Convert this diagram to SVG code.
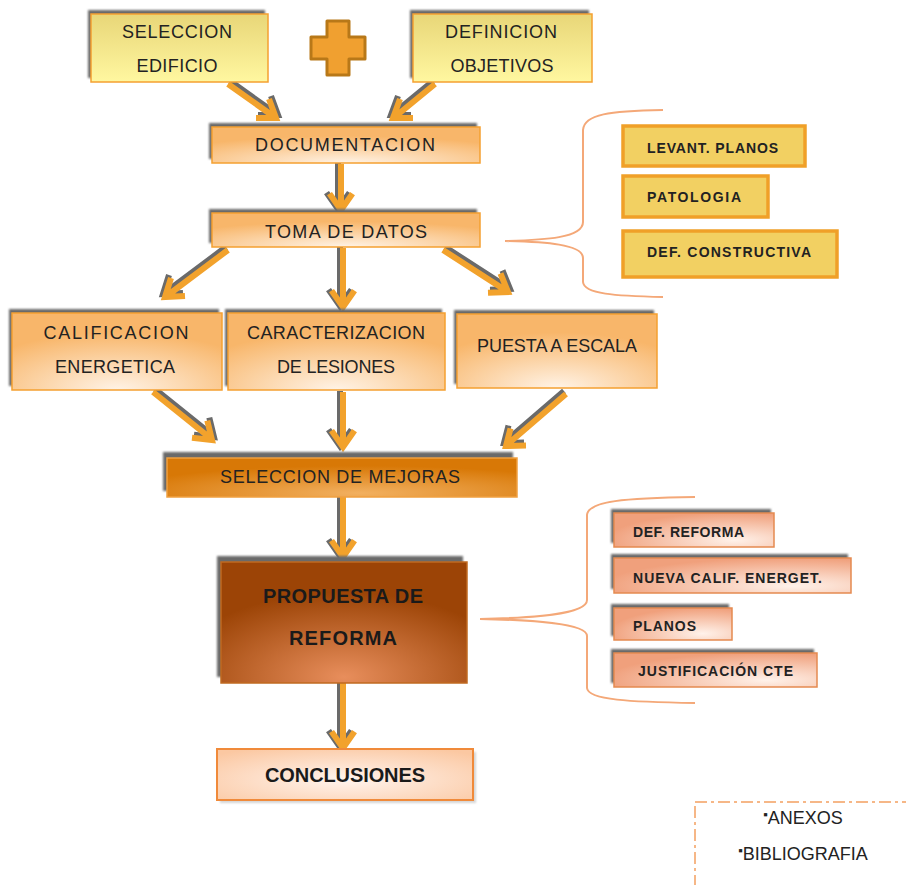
<svg xmlns="http://www.w3.org/2000/svg" xmlns:xlink="http://www.w3.org/1999/xlink" width="906" height="885" viewBox="0 0 906 885">
<style>
.t{font-family:"Liberation Sans",Arial,sans-serif;font-size:18px;fill:#222;text-anchor:middle}
.tb{font-family:"Liberation Sans",Arial,sans-serif;font-size:20px;font-weight:bold;fill:#1a1a1a;text-anchor:middle}
.ts{font-family:"Liberation Sans",Arial,sans-serif;font-size:14px;font-weight:bold;fill:#222}
.sh{fill:#6a6a6a}
.bx{stroke:#f5a030;stroke-width:1.5}
.gold{fill:#f2d062;stroke:#f0a028;stroke-width:3.5}
.brace{fill:none;stroke:#f4a878;stroke-width:2}
.ar{fill:none;stroke:#f2a22c;stroke-width:6;stroke-linejoin:miter}
.ars{fill:none;stroke:#6a6a6a;stroke-width:6;stroke-linejoin:miter}
</style>
<defs>
<linearGradient id="gy" x1="0" y1="0" x2="0" y2="1"><stop offset="0" stop-color="#e8d678"/><stop offset="1" stop-color="#fff7a0"/></linearGradient>
<radialGradient id="gp" cx="0.5" cy="1" r="0.75"><stop offset="0" stop-color="#fff3e6"/><stop offset="1" stop-color="#f8b66a"/></radialGradient>
<radialGradient id="gm" cx="0.55" cy="0.9" r="0.7"><stop offset="0" stop-color="#f2b060"/><stop offset="1" stop-color="#d87806"/></radialGradient>
<radialGradient id="gr" cx="0.5" cy="0.95" r="0.7"><stop offset="0" stop-color="#e88e5c"/><stop offset="1" stop-color="#9c4406"/></radialGradient>
<radialGradient id="gc" cx="0.5" cy="0.6" r="0.7"><stop offset="0" stop-color="#fff4ee"/><stop offset="1" stop-color="#fbc8a2"/></radialGradient>
<radialGradient id="gs" cx="0.75" cy="0.8" r="0.8"><stop offset="0" stop-color="#fff2ea"/><stop offset="1" stop-color="#f0a07c"/></radialGradient>
<filter id="bl" x="-5%" y="-20%" width="110%" height="140%"><feGaussianBlur stdDeviation="0.8"/></filter>
<path id="a1" d="M228,84 L273,116 M256,118 L276,118 L269,99"/>
<path id="a2" d="M435,84 L396,116 M413,118 L393,118 L400,99"/>
<path id="a3" d="M341,164 L341,206 M329.5,193.6 L341,210 L352.5,193.6"/>
<path id="a4" d="M228,250 L168,295 M185,296 L165,297 L171,278"/>
<path id="a5" d="M343,248 L343,303 M331.5,290.6 L343,307 L354.5,290.6"/>
<path id="a6" d="M443,250 L505,290 M488,292.7 L508,292 L500.5,273.5"/>
<path id="a7" d="M153,392 L209,437 M192,437.8 L212,440 L207.3,420.6"/>
<path id="a8" d="M343,392 L343,443 M331.5,430.6 L343,447 L354.5,430.6"/>
<path id="a9" d="M566,394 L509,443 M526,445.6 L506,446 L510.5,428.5"/>
<path id="a10" d="M343,497 L343,553 M331.5,540.6 L343,557 L354.5,540.6"/>
<path id="a11" d="M343,683 L343,744 M331.5,731.6 L343,748 L354.5,731.6"/>
</defs>
<rect width="906" height="885" fill="#ffffff"/>

<g id="connectors">
<use xlink:href="#a1" class="ars" transform="translate(2,-3)"/><use xlink:href="#a1" class="ar"/>
<use xlink:href="#a2" class="ars" transform="translate(-2,-3)"/><use xlink:href="#a2" class="ar"/>
<use xlink:href="#a3" class="ars" transform="translate(-3,-1)"/><use xlink:href="#a3" class="ar"/>
<use xlink:href="#a4" class="ars" transform="translate(-2,-3)"/><use xlink:href="#a4" class="ar"/>
<use xlink:href="#a5" class="ars" transform="translate(-3,-1)"/><use xlink:href="#a5" class="ar"/>
<use xlink:href="#a6" class="ars" transform="translate(2,-3)"/><use xlink:href="#a6" class="ar"/>
<use xlink:href="#a7" class="ars" transform="translate(2,-3)"/><use xlink:href="#a7" class="ar"/>
<use xlink:href="#a8" class="ars" transform="translate(-3,-1)"/><use xlink:href="#a8" class="ar"/>
<use xlink:href="#a9" class="ars" transform="translate(-2,-3)"/><use xlink:href="#a9" class="ar"/>
<use xlink:href="#a10" class="ars" transform="translate(-3,-1)"/><use xlink:href="#a10" class="ar"/>
<use xlink:href="#a11" class="ars" transform="translate(-3,-1)"/><use xlink:href="#a11" class="ar"/>
<path class="brace" d="M663,110 C610,111 584,114 583,130 L583,222 C583,238 545,240 505,241 C545,242 583,244 583,258 L583,282 C584,294 615,296 663,297"/>
<path class="brace" d="M695,497 C625,498 588,501 587,515 L587,600 C587,615 530,618 480,619 C530,620 587,623 587,636 L587,688 C588,700 630,702 695,703"/>
</g>

<g id="seleccion-edificio">
<rect class="sh" x="88" y="10" width="177" height="68" filter="url(#bl)"/>
<rect class="bx" x="91" y="14" width="177" height="68" fill="url(#gy)"/>
<text class="t" x="177" y="38" textLength="110">SELECCION</text>
<text class="t" x="177" y="72" textLength="81">EDIFICIO</text>
</g>

<g id="plus">
<polygon points="327,21 349,21 349,37 365,37 365,59 349,59 349,75 327,75 327,59 311,59 311,37 327,37" fill="#f0a030" stroke="#b87818" stroke-width="3" stroke-linejoin="round"/>
</g>

<g id="definicion-objetivos">
<rect class="sh" x="410" y="10" width="179" height="68" filter="url(#bl)"/>
<rect class="bx" x="413" y="14" width="179" height="68" fill="url(#gy)"/>
<text class="t" x="501" y="38" textLength="112">DEFINICION</text>
<text class="t" x="502" y="72" textLength="103">OBJETIVOS</text>
</g>

<g id="documentacion">
<rect class="sh" x="209" y="123" width="268" height="36" filter="url(#bl)"/>
<rect class="bx" x="212" y="127" width="268" height="36" fill="url(#gp)"/>
<text class="t" x="345" y="151" textLength="180">DOCUMENTACION</text>
</g>

<g id="toma-datos">
<rect class="sh" x="209" y="209" width="268" height="34" filter="url(#bl)"/>
<rect class="bx" x="212" y="213" width="268" height="34" fill="url(#gp)"/>
<text class="t" x="346" y="238" textLength="162">TOMA DE DATOS</text>
</g>

<g id="calificacion">
<rect class="sh" x="9" y="309" width="210" height="77" filter="url(#bl)"/>
<rect class="bx" x="12" y="313" width="210" height="77" fill="url(#gp)"/>
<text class="t" x="116" y="339" textLength="145">CALIFICACION</text>
<text class="t" x="115" y="373" textLength="120">ENERGETICA</text>
</g>

<g id="caracterizacion">
<rect class="sh" x="225" y="309" width="217" height="77" filter="url(#bl)"/>
<rect class="bx" x="228" y="313" width="217" height="77" fill="url(#gp)"/>
<text class="t" x="336" y="339" textLength="178">CARACTERIZACION</text>
<text class="t" x="336" y="373" textLength="118">DE LESIONES</text>
</g>

<g id="puesta-escala">
<rect class="sh" x="454" y="310" width="200" height="74" filter="url(#bl)"/>
<rect class="bx" x="457" y="314" width="200" height="74" fill="url(#gp)"/>
<text class="t" x="557" y="352" textLength="160">PUESTA A ESCALA</text>
</g>

<g id="seleccion-mejoras">
<rect class="sh" x="163" y="452" width="350" height="39" filter="url(#bl)"/>
<rect x="167" y="458" width="350" height="39" fill="url(#gm)" stroke="#f0a040" stroke-width="1.5"/>
<text class="t" x="340" y="483" textLength="240">SELECCION DE MEJORAS</text>
</g>

<g id="propuesta-reforma">
<rect class="sh" x="217" y="556" width="246" height="121" filter="url(#bl)"/>
<rect x="221" y="562" width="246" height="121" fill="url(#gr)" stroke="#c06a20" stroke-width="1.5"/>
<text class="tb" x="343" y="603" textLength="160">PROPUESTA DE</text>
<text class="tb" x="343" y="645" textLength="108">REFORMA</text>
</g>

<g id="conclusiones">
<rect x="220" y="752" width="256" height="51" fill="#b8b8b8" opacity="0.6" filter="url(#bl)"/>
<rect x="217" y="749" width="256" height="51" fill="url(#gc)" stroke="#f08a3a" stroke-width="2"/>
<text class="tb" x="345" y="782" textLength="160">CONCLUSIONES</text>
</g>

<g id="levant-planos">
<rect class="gold" x="623" y="126" width="182" height="40"/>
<text class="ts" x="647" y="153" textLength="131">LEVANT. PLANOS</text>
</g>
<g id="patologia">
<rect class="gold" x="623" y="176" width="145" height="41"/>
<text class="ts" x="647" y="202" textLength="94">PATOLOGIA</text>
</g>
<g id="def-constructiva">
<rect class="gold" x="623" y="231" width="214" height="46"/>
<text class="ts" x="647" y="257" textLength="164">DEF. CONSTRUCTIVA</text>
</g>

<g id="def-reforma">
<rect class="sh" x="611" y="509" width="160" height="34" filter="url(#bl)"/>
<rect x="614" y="513" width="160" height="34" fill="url(#gs)" stroke="#e58a50" stroke-width="1.5"/>
<text class="ts" x="633" y="537" textLength="111">DEF. REFORMA</text>
</g>
<g id="nueva-calif">
<rect class="sh" x="611" y="554" width="237" height="35" filter="url(#bl)"/>
<rect x="614" y="558" width="237" height="35" fill="url(#gs)" stroke="#e58a50" stroke-width="1.5"/>
<text class="ts" x="633" y="583" textLength="189">NUEVA CALIF. ENERGET.</text>
</g>
<g id="planos">
<rect class="sh" x="611" y="604" width="118" height="32" filter="url(#bl)"/>
<rect x="614" y="608" width="118" height="32" fill="url(#gs)" stroke="#e58a50" stroke-width="1.5"/>
<text class="ts" x="633" y="631" textLength="63">PLANOS</text>
</g>
<g id="justificacion-cte">
<rect class="sh" x="611" y="649" width="203" height="34" filter="url(#bl)"/>
<rect x="614" y="653" width="203" height="34" fill="url(#gs)" stroke="#e58a50" stroke-width="1.5"/>
<text class="ts" x="638" y="676" textLength="155">JUSTIFICACIÓN CTE</text>
</g>

<g id="anexos">
<rect x="695" y="802" width="230" height="100" fill="none" stroke="#f4a060" stroke-width="1.5" stroke-dasharray="12,4,3,4"/>
<text class="t" x="803" y="824" font-size="17"><tspan font-size="13" dy="-5">▪</tspan><tspan dy="5">ANEXOS</tspan></text>
<text class="t" x="803" y="860" font-size="17"><tspan font-size="13" dy="-5">▪</tspan><tspan dy="5">BIBLIOGRAFIA</tspan></text>
</g>
</svg>
